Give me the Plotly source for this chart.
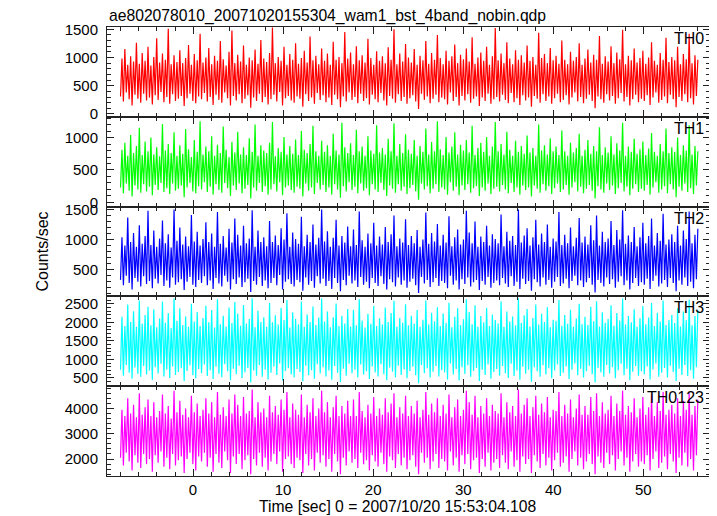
import numpy as np
import plotly.graph_objects as go

TITLE = "ae802078010_20071020155304_wam1_bst_4band_nobin.qdp"
X_TITLE = "Time [sec] 0 = 2007/10/20 15:53:04.108"
Y_TITLE = "Counts/sec"
TIME_START = -8.05
TIME_END = 56.05

band_names = ["TH0", "TH1", "TH2", "TH3", "TH0123"]
band_colors = ["#ff0000", "#00ff00", "#0000ff", "#00ffff", "#ff00ff"]

# Count rates read column by column (alternating local minimum / maximum)
th0 = [
    310, 980, 220, 1150, 380, 870, 260, 1020, 150, 930, 340, 1260, 270, 890, 200, 1080, 360, 940, 240, 1190,
    290, 860, 170, 1010, 330, 1340, 250, 910, 390, 1070, 210, 960, 300, 1510, 180, 880, 350, 1040, 230, 920,
    270, 1130, 320, 900, 140, 990, 280, 1220, 360, 870, 230, 1060, 190, 950, 310, 1420, 260, 910, 370, 1000,
    220, 1170, 300, 880, 160, 1030, 340, 940, 250, 1290, 200, 970, 380, 860, 280, 1100, 150, 1480, 320, 900,
    240, 1050, 350, 930, 190, 1210, 270, 870, 330, 1000, 110, 950, 290, 1140, 230, 890, 360, 1310, 210, 980,
    300, 920, 170, 1080, 260, 1530, 340, 900, 220, 1010, 390, 940, 150, 1190, 280, 870, 320, 1060, 240, 960,
    200, 1250, 310, 890, 270, 990, 130, 1120, 350, 910, 230, 1370, 290, 950, 180, 1030, 370, 880, 250, 1160,
    330, 940, 210, 1070, 290, 870, 160, 1280, 340, 960, 260, 1010, 120, 900, 310, 1450, 220, 980, 380, 1090,
    250, 880, 300, 1200, 190, 950, 360, 1040, 230, 910, 280, 1330, 170, 990, 340, 870, 260, 1110, 210, 940,
    370, 1020, 240, 900, 150, 1180, 320, 960, 270, 1500, 200, 880, 350, 1070, 230, 930, 300, 1240, 180, 1000,
    280, 910, 330, 1150, 220, 870, 90, 1030, 360, 950, 250, 1290, 310, 890, 190, 1080, 270, 960, 340, 1400,
    210, 990, 290, 880, 260, 1120, 170, 940, 380, 1020, 230, 1230, 300, 900, 150, 1050, 320, 970, 240, 1160,
    350, 930, 200, 1360, 270, 890, 310, 1000, 140, 1090, 290, 940, 230, 1190, 360, 870, 180, 1020, 260, 1520,
    300, 950, 220, 1070, 340, 900, 250, 1270, 190, 980, 370, 880, 210, 1130, 280, 960, 160, 1040, 330, 910,
    240, 1210, 290, 940, 130, 1010, 320, 870, 270, 1440, 200, 990, 350, 1060, 230, 900, 310, 1170, 180, 950,
    280, 1030, 360, 890, 210, 1300, 250, 960, 330, 880, 170, 1100, 290, 940, 380, 1010, 220, 1250, 300, 870,
    190, 980, 270, 1140, 340, 910, 230, 1050, 100, 960, 310, 1380, 260, 890, 200, 1020, 350, 930, 240, 1200,
    320, 900, 180, 1090, 280, 970, 370, 1490, 220, 880, 300, 1030, 150, 950, 260, 1160, 340, 910, 210, 990,
    270, 1120, 230, 890, 330, 1000, 160, 1270, 290, 940, 380, 870, 200, 1080, 250, 960, 310, 1350, 190, 920,
    340, 1010, 260, 950, 120, 1190, 300, 880, 230, 1060, 350, 970, 210, 1420, 280, 900, 170, 1040, 320, 960,
]

th1 = [
    230, 810, 140, 920, 290, 720, 180, 1040, 90, 760, 260, 870, 200, 1150, 150, 730, 280, 940, 170, 790,
    240, 1000, 110, 740, 270, 850, 190, 710, 300, 1210, 160, 800, 220, 900, 130, 760, 290, 1080, 180, 720,
    210, 880, 260, 750, 80, 1130, 230, 820, 300, 700, 170, 960, 140, 780, 250, 1250, 200, 740, 310, 860,
    160, 790, 240, 1020, 120, 720, 280, 890, 190, 760, 150, 1170, 300, 810, 220, 700, 100, 930, 260, 770,
    190, 1090, 290, 740, 140, 850, 210, 730, 270, 990, 60, 780, 230, 1200, 180, 720, 300, 880, 160, 800,
    250, 760, 120, 920, 200, 1240, 280, 710, 170, 840, 310, 780, 110, 1010, 230, 740, 260, 870, 190, 750,
    150, 970, 240, 730, 210, 1100, 90, 810, 290, 760, 180, 900, 230, 1180, 130, 790, 300, 720, 200, 950,
    270, 780, 160, 880, 230, 720, 120, 1060, 280, 800, 200, 740, 70, 1230, 250, 850, 170, 760, 310, 910,
    190, 730, 240, 1120, 140, 790, 290, 860, 180, 720, 220, 1020, 110, 800, 280, 750, 200, 1190, 160, 770,
    300, 840, 190, 740, 100, 980, 260, 790, 210, 1220, 150, 720, 280, 900, 180, 760, 240, 1050, 130, 810,
    220, 750, 270, 960, 170, 720, 40, 870, 290, 780, 200, 1140, 250, 740, 140, 930, 210, 790, 280, 1250,
    160, 820, 230, 730, 200, 1010, 120, 770, 310, 860, 180, 1080, 240, 740, 110, 890, 260, 800, 190, 960,
    280, 770, 150, 1180, 220, 730, 250, 840, 100, 920, 230, 780, 180, 1010, 290, 720, 130, 860, 210, 1240,
    240, 790, 170, 900, 270, 740, 200, 1090, 140, 810, 300, 720, 160, 950, 230, 780, 120, 870, 260, 750,
    190, 1030, 230, 770, 90, 840, 260, 720, 210, 1200, 150, 800, 280, 880, 180, 740, 250, 990, 130, 790,
    220, 860, 290, 730, 160, 1110, 200, 790, 270, 720, 120, 920, 230, 770, 310, 840, 170, 1060, 240, 720,
    140, 810, 210, 960, 270, 750, 180, 870, 60, 790, 250, 1160, 200, 730, 150, 850, 290, 770, 190, 1020,
    260, 740, 130, 910, 220, 800, 300, 1230, 170, 720, 240, 860, 110, 780, 210, 980, 280, 750, 160, 820,
    210, 940, 180, 730, 270, 830, 120, 1070, 230, 780, 310, 720, 150, 900, 200, 790, 250, 1140, 140, 760,
    280, 850, 200, 780, 80, 1000, 240, 730, 180, 880, 290, 800, 160, 1190, 220, 740, 130, 870, 260, 790,
]

th2 = [
    330, 1040, 240, 900, 400, 1370, 280, 960, 170, 1110, 360, 880, 300, 1240, 220, 930, 390, 1060, 260, 1480,
    310, 910, 190, 1150, 350, 880, 270, 1020, 410, 1320, 230, 940, 320, 1090, 200, 870, 370, 1500, 250, 980,
    290, 1200, 340, 920, 160, 1050, 300, 890, 380, 1410, 250, 970, 210, 1130, 330, 900, 280, 1010, 390, 1290,
    240, 960, 320, 1100, 180, 880, 360, 1460, 270, 930, 220, 1060, 400, 870, 300, 1180, 170, 950, 340, 1350,
    260, 1080, 370, 900, 210, 1230, 290, 940, 350, 1020, 130, 1490, 310, 880, 250, 1150, 380, 960, 230, 1040,
    320, 890, 190, 1310, 280, 960, 360, 1070, 240, 910, 410, 1190, 170, 1000, 300, 1440, 340, 880, 260, 1120,
    220, 1010, 330, 930, 290, 1380, 150, 890, 370, 1080, 250, 960, 310, 1250, 200, 920, 390, 1030, 270, 1500,
    350, 970, 230, 1140, 310, 880, 180, 1030, 360, 1330, 280, 900, 140, 1060, 330, 950, 240, 1220, 400, 890,
    270, 1170, 320, 910, 210, 1470, 380, 990, 250, 880, 300, 1100, 190, 940, 360, 1280, 280, 900, 230, 1050,
    390, 920, 260, 1210, 170, 960, 340, 1090, 290, 1400, 220, 890, 370, 1020, 250, 950, 320, 1340, 200, 910,
    300, 1060, 350, 940, 240, 1160, 110, 880, 380, 1000, 270, 1450, 330, 930, 210, 1110, 290, 970, 360, 1260,
    230, 900, 310, 1080, 280, 950, 190, 1390, 400, 890, 250, 1040, 320, 1170, 170, 920, 340, 1000, 260, 1480,
    370, 1120, 220, 940, 290, 1300, 330, 880, 160, 1050, 310, 960, 250, 1230, 380, 900, 200, 1090, 280, 1010,
    320, 940, 240, 1420, 360, 890, 270, 1130, 210, 980, 390, 1060, 230, 910, 300, 1500, 180, 950, 350, 1070,
    260, 1190, 310, 900, 150, 1040, 340, 1330, 290, 920, 220, 1100, 370, 960, 250, 1250, 330, 880, 200, 1020,
    300, 970, 380, 1460, 230, 910, 270, 1080, 350, 940, 190, 1200, 310, 890, 400, 1030, 240, 1360, 320, 950,
    210, 1050, 290, 920, 360, 1240, 250, 990, 120, 1400, 330, 900, 280, 1130, 220, 960, 370, 1020, 260, 1310,
    340, 910, 200, 1160, 300, 1000, 390, 1490, 240, 930, 320, 1070, 170, 960, 280, 1210, 360, 890, 230, 1040,
    290, 1280, 250, 940, 350, 1060, 180, 1350, 310, 900, 400, 1110, 220, 980, 270, 1430, 330, 920, 210, 1000,
    360, 1090, 280, 960, 140, 1230, 320, 900, 250, 1150, 370, 1010, 230, 1470, 300, 940, 190, 1080, 340, 1180,
]

th3 = [
    720, 2150, 560, 1900, 850, 2480, 640, 2010, 480, 2300, 780, 1880, 610, 2590, 530, 1960, 820, 2200, 590, 2420,
    700, 1920, 450, 2350, 790, 1870, 620, 2100, 880, 2560, 540, 1990, 730, 2250, 500, 1850, 810, 2640, 580, 2040,
    660, 2380, 760, 1930, 420, 2160, 690, 1880, 840, 2500, 570, 2020, 490, 2280, 740, 1900, 630, 2120, 860, 2450,
    550, 2000, 710, 2330, 470, 1860, 800, 2620, 610, 1950, 520, 2180, 870, 1890, 680, 2400, 440, 1980, 750, 2550,
    600, 2230, 830, 1910, 500, 2470, 650, 1970, 770, 2090, 380, 2650, 700, 1870, 560, 2310, 850, 2010, 530, 2140,
    720, 1880, 460, 2520, 640, 2000, 810, 2190, 580, 1940, 890, 2390, 430, 2060, 690, 2600, 760, 1860, 590, 2270,
    520, 2090, 740, 1950, 660, 2560, 410, 1880, 830, 2210, 570, 2010, 710, 2430, 480, 1930, 870, 2130, 620, 2640,
    790, 2020, 540, 2290, 700, 1870, 450, 2140, 820, 2510, 640, 1900, 390, 2180, 750, 1970, 560, 2360, 880, 1890,
    630, 2340, 720, 1920, 510, 2620, 860, 2050, 590, 1860, 680, 2230, 470, 1960, 810, 2440, 650, 1900, 540, 2110,
    870, 1940, 600, 2400, 440, 2010, 780, 2250, 670, 2580, 520, 1880, 830, 2120, 580, 1990, 730, 2490, 490, 1920,
    690, 2180, 800, 1960, 570, 2330, 360, 1880, 850, 2070, 630, 2590, 760, 1940, 510, 2260, 670, 2030, 820, 2410,
    540, 1900, 710, 2240, 650, 1990, 460, 2530, 890, 1870, 590, 2150, 740, 2380, 430, 1930, 790, 2080, 610, 2620,
    840, 2280, 530, 1950, 690, 2460, 770, 1880, 420, 2170, 720, 2000, 580, 2390, 860, 1900, 480, 2210, 660, 2060,
    740, 1970, 560, 2570, 820, 1880, 630, 2290, 500, 2020, 880, 2160, 550, 1920, 700, 2650, 450, 1980, 800, 2190,
    610, 2360, 720, 1890, 400, 2120, 790, 2480, 680, 1940, 530, 2230, 840, 2010, 590, 2410, 760, 1870, 490, 2070,
    700, 2040, 860, 2600, 550, 1910, 640, 2200, 810, 1960, 470, 2340, 720, 1880, 890, 2100, 570, 2500, 750, 1950,
    510, 2150, 680, 1930, 830, 2420, 600, 2030, 380, 2570, 770, 1890, 650, 2270, 530, 1990, 850, 2090, 620, 2460,
    790, 1910, 490, 2250, 710, 2050, 880, 2640, 570, 1940, 750, 2170, 440, 2000, 670, 2350, 820, 1880, 560, 2110,
    680, 2440, 600, 1950, 810, 2130, 460, 2520, 730, 1900, 890, 2260, 530, 2020, 640, 2590, 770, 1930, 510, 2060,
    830, 2200, 660, 1980, 420, 2380, 750, 1890, 580, 2290, 850, 2060, 550, 2610, 710, 1920, 480, 2170, 790, 2330,
]

th0123 = [
    2050, 3950, 1750, 3700, 2250, 4400, 1900, 3800, 1550, 4150, 2150, 3650, 1850, 4600, 1650, 3750, 2200, 4050, 1800, 4350,
    2000, 3700, 1500, 4250, 2150, 3650, 1850, 3900, 2300, 4550, 1700, 3800, 2050, 4100, 1600, 3600, 2200, 4700, 1750, 3850,
    1950, 4300, 2100, 3750, 1450, 4000, 2000, 3650, 2250, 4500, 1800, 3850, 1550, 4200, 2100, 3700, 1900, 3950, 2250, 4400,
    1700, 3800, 2050, 4250, 1500, 3650, 2200, 4650, 1850, 3750, 1650, 4050, 2300, 3700, 1950, 4350, 1450, 3800, 2100, 4550,
    1800, 4150, 2200, 3700, 1600, 4450, 1950, 3800, 2150, 3900, 1400, 4750, 2000, 3650, 1750, 4250, 2250, 3850, 1700, 4000,
    2050, 3650, 1550, 4500, 1900, 3850, 2200, 4100, 1800, 3750, 2300, 4350, 1500, 3950, 2000, 4650, 2100, 3650, 1800, 4200,
    1650, 3950, 2050, 3750, 1950, 4550, 1450, 3650, 2200, 4150, 1750, 3850, 2000, 4400, 1550, 3700, 2250, 4000, 1850, 4700,
    2150, 3850, 1700, 4250, 2000, 3650, 1500, 4050, 2200, 4500, 1900, 3700, 1400, 4100, 2050, 3800, 1750, 4300, 2300, 3700,
    1850, 4350, 2000, 3700, 1650, 4650, 2250, 3900, 1800, 3650, 1950, 4150, 1550, 3800, 2150, 4450, 1900, 3700, 1700, 4000,
    2250, 3750, 1800, 4400, 1500, 3850, 2100, 4200, 1950, 4600, 1650, 3650, 2200, 4050, 1750, 3800, 2050, 4500, 1600, 3700,
    1950, 4100, 2150, 3800, 1700, 4300, 1400, 3650, 2250, 3950, 1850, 4650, 2050, 3750, 1600, 4200, 1900, 3850, 2200, 4400,
    1650, 3700, 2000, 4150, 1900, 3800, 1550, 4550, 2300, 3650, 1750, 4050, 2050, 4350, 1500, 3700, 2150, 3950, 1800, 4700,
    2200, 4250, 1600, 3750, 1950, 4500, 2050, 3650, 1450, 4100, 2000, 3800, 1700, 4400, 2250, 3700, 1550, 4150, 1850, 3900,
    2000, 3800, 1650, 4600, 2150, 3650, 1850, 4250, 1600, 3850, 2300, 4100, 1700, 3700, 1950, 4750, 1500, 3800, 2100, 4150,
    1800, 4400, 2000, 3700, 1450, 4050, 2150, 4500, 1900, 3750, 1650, 4200, 2200, 3850, 1750, 4450, 2050, 3650, 1550, 3950,
    1950, 3900, 2250, 4650, 1700, 3700, 1850, 4150, 2100, 3800, 1500, 4350, 2000, 3650, 2300, 4000, 1750, 4550, 2050, 3750,
    1600, 4100, 1900, 3750, 2200, 4450, 1800, 3900, 1400, 4600, 2100, 3700, 1850, 4250, 1650, 3800, 2250, 3950, 1800, 4500,
    2150, 3700, 1550, 4200, 2000, 3900, 2300, 4700, 1750, 3750, 2050, 4100, 1500, 3850, 1900, 4400, 2200, 3650, 1700, 4000,
    1900, 4450, 1800, 3750, 2150, 4050, 1550, 4550, 2000, 3700, 2300, 4250, 1650, 3900, 1850, 4650, 2100, 3750, 1600, 3950,
    2200, 4150, 1900, 3800, 1450, 4400, 2050, 3700, 1750, 4300, 2250, 3950, 1700, 4600, 2000, 3750, 1550, 4100, 2150, 4350,
]

series = [th0, th1, th2, th3, th0123]

# axis settings per panel
y_ranges = [[-50, 1540], [-65, 1320], [55, 1550], [277, 2700], [1330, 4880]]
y_dticks = [500, 500, 500, 500, 1000]
y_minor = [100, 100, 100, 100, 200]
x_range = [-9.55, 57.4]

FONT = "Liberation Sans, Arial, Helvetica, sans-serif"
AXCOL = "#222222"

fig = go.Figure()
n = len(series)
for i, (name, vals, col) in enumerate(zip(band_names, series, band_colors)):
    t = np.linspace(TIME_START, TIME_END, len(vals))
    sfx = "" if i == 0 else str(i + 1)
    fig.add_trace(go.Scatter(
        x=t, y=vals, mode="lines", name=name,
        line=dict(color=col, width=1.2, simplify=False),
        xaxis="x" + sfx, yaxis="y" + sfx, showlegend=False,
        hoverinfo="skip",
    ))
    top = 1 - i / n
    bot = 1 - (i + 1) / n
    fig.layout["xaxis" + sfx] = dict(
        domain=[0, 1], anchor="y" + sfx, range=x_range,
        showline=True, mirror="allticks", linecolor=AXCOL, linewidth=1,
        ticks="inside", ticklen=7, tickcolor=AXCOL, dtick=10, tick0=0,
        minor=dict(ticks="inside", ticklen=4, dtick=2, tickcolor=AXCOL),
        showticklabels=(i == n - 1), showgrid=False, zeroline=False,
        tickfont=dict(family=FONT, size=15, color="black"),
        **({} if i == 0 else {"matches": "x"}),
    )
    fig.layout["yaxis" + sfx] = dict(
        domain=[bot, top], anchor="x" + sfx, range=y_ranges[i],
        showline=True, mirror="allticks", linecolor=AXCOL, linewidth=1,
        ticks="inside", ticklen=7, tickcolor=AXCOL, dtick=y_dticks[i], tick0=0,
        minor=dict(ticks="inside", ticklen=4, dtick=y_minor[i], tickcolor=AXCOL),
        showgrid=False, zeroline=False, ticklabelstandoff=5,
        tickfont=dict(family=FONT, size=15, color="black"),
    )
    fig.add_annotation(
        text=name, xref="paper", yref="paper", x=1, y=top,
        xanchor="right", yanchor="top", xshift=-4, yshift=-1, showarrow=False,
        font=dict(family=FONT, size=16, color="black"),
    )

fig.add_annotation(text=TITLE, xref="paper", yref="paper", x=0, y=1,
                   xanchor="left", yanchor="bottom", yshift=0, showarrow=False,
                   font=dict(family=FONT, size=15.7, color="black"))
fig.add_annotation(text=X_TITLE, xref="paper", yref="paper", x=0.481, y=0,
                   xanchor="center", yanchor="top", yshift=-20, showarrow=False,
                   font=dict(family=FONT, size=15.7, color="black"))
fig.add_annotation(text=Y_TITLE, xref="paper", yref="paper", x=0, y=0.5,
                   xanchor="center", yanchor="middle", xshift=-65, textangle=-90,
                   showarrow=False, font=dict(family=FONT, size=16, color="black"))

# the page places the figure 8px in from the top-left corner; margins compensate
fig.update_layout(
    width=717, height=516,
    margin=dict(l=99, r=15, t=19, b=48),
    plot_bgcolor="white", paper_bgcolor="white",
    font=dict(family=FONT, size=15, color="black"),
)

fig.write_html("out.html")
